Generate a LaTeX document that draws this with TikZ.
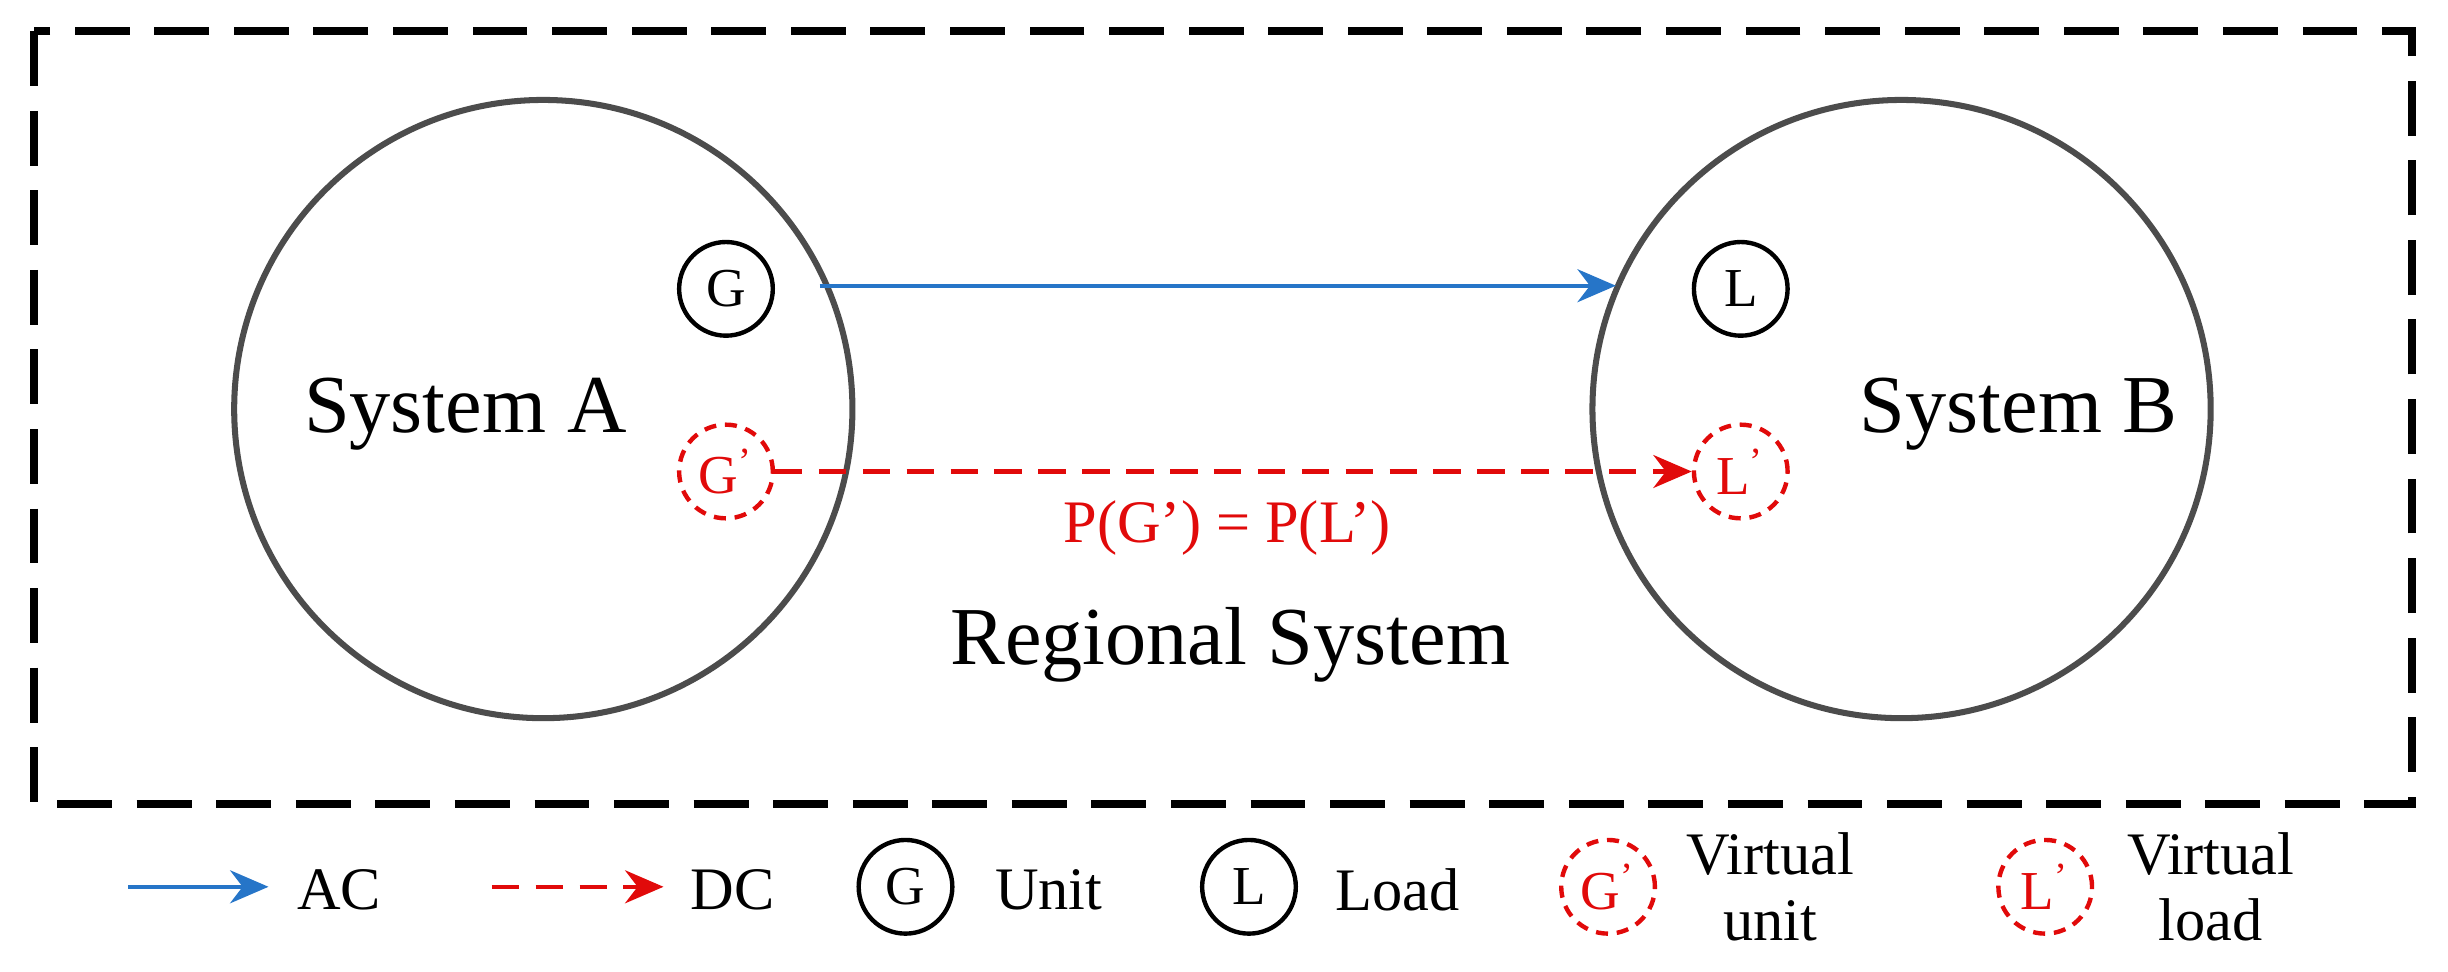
\documentclass[tikz,border=0pt]{standalone}
\usepackage{fontspec}
\setmainfont{Liberation Serif}
\usetikzlibrary{arrows.meta}
\definecolor{ac}{RGB}{38,117,200}
\definecolor{dc}{RGB}{225,10,10}
\begin{document}
\begin{tikzpicture}[x=0.1mm,y=-0.1mm,
  sys/.style={circle,draw=black!70,line width=1.1pt,minimum size=39.6mm,inner sep=0},
  dev/.style={circle,draw=black,line width=0.8pt,minimum size=6mm,inner sep=0,font=\fontsize{10}{10}\selectfont},
  vdev/.style={dev,draw=dc,text=dc,dashed,dash pattern=on 2.2pt off 1.6pt},
  acl/.style={ac,line width=0.8pt,-{Stealth[length=7pt,width=6pt]}},
  dcl/.style={dc,line width=0.8pt,dash pattern=on 5pt off 3pt,-{Stealth[length=7pt,width=6pt]}},
  lbl/.style={font=\fontsize{11}{12}\selectfont,align=left}]
\useasboundingbox (0,0) rectangle (1568,622);
\draw[line width=1.5pt,dash pattern=on 10pt off 4.5pt] (22,20) rectangle (1545,515);
\node[sys] (A) at (348,262) {};
\node[sys] (B) at (1218,262) {};
\node[font=\fontsize{15}{16}\selectfont] (tA) at (298,265) {System A};
\node[font=\fontsize{15}{16}\selectfont] (tB) at (1293,265) {System B};
\node[font=\fontsize{15}{16}\selectfont] (tR) at (788,413) {Regional System};
\node[dev] (G) at (465,185) {G};
\node[dev] (L) at (1115,185) {L};
\node[vdev] (Gp) at (465,302) {G\textsuperscript{’}};
\node[vdev] (Lp) at (1115,302) {L\textsuperscript{’}};
\coordinate (acs) at (525,183);
\coordinate (ace) at (1035,183);
\draw[acl] (acs) -- (ace);
\draw[dcl] (Gp.east) -- (Lp.west);
\node[text=dc,font=\fontsize{11}{12}\selectfont] (eq) at (786,338) {P(G’) = P(L’)};
% legend
\coordinate (l1a) at (82,568); \coordinate (l1b) at (172,568);
\draw[acl] (l1a) -- (l1b);
\node[lbl,anchor=west] (tAC) at (178,570) {AC};
\coordinate (l2a) at (315,568); \coordinate (l2b) at (425,568);
\draw[dcl] (l2a) -- (l2b);
\node[lbl,anchor=west] (tDC) at (430,570) {DC};
\node[dev] (lg) at (580,568) {G};
\node[lbl,anchor=west] (tU) at (625,570) {Unit};
\node[dev] (ll) at (800,568) {L};
\node[lbl,anchor=west] (tLd) at (843,570) {Load};
\node[vdev] (lgp) at (1030,568) {G\textsuperscript{’}};
\node[lbl,anchor=west,align=center] (tVU) at (1068,568) {Virtual\\unit};
\node[vdev] (llp) at (1310,568) {L\textsuperscript{’}};
\node[lbl,anchor=west,align=center] (tVL) at (1350,568) {Virtual\\load};
\end{tikzpicture}
\end{document}
